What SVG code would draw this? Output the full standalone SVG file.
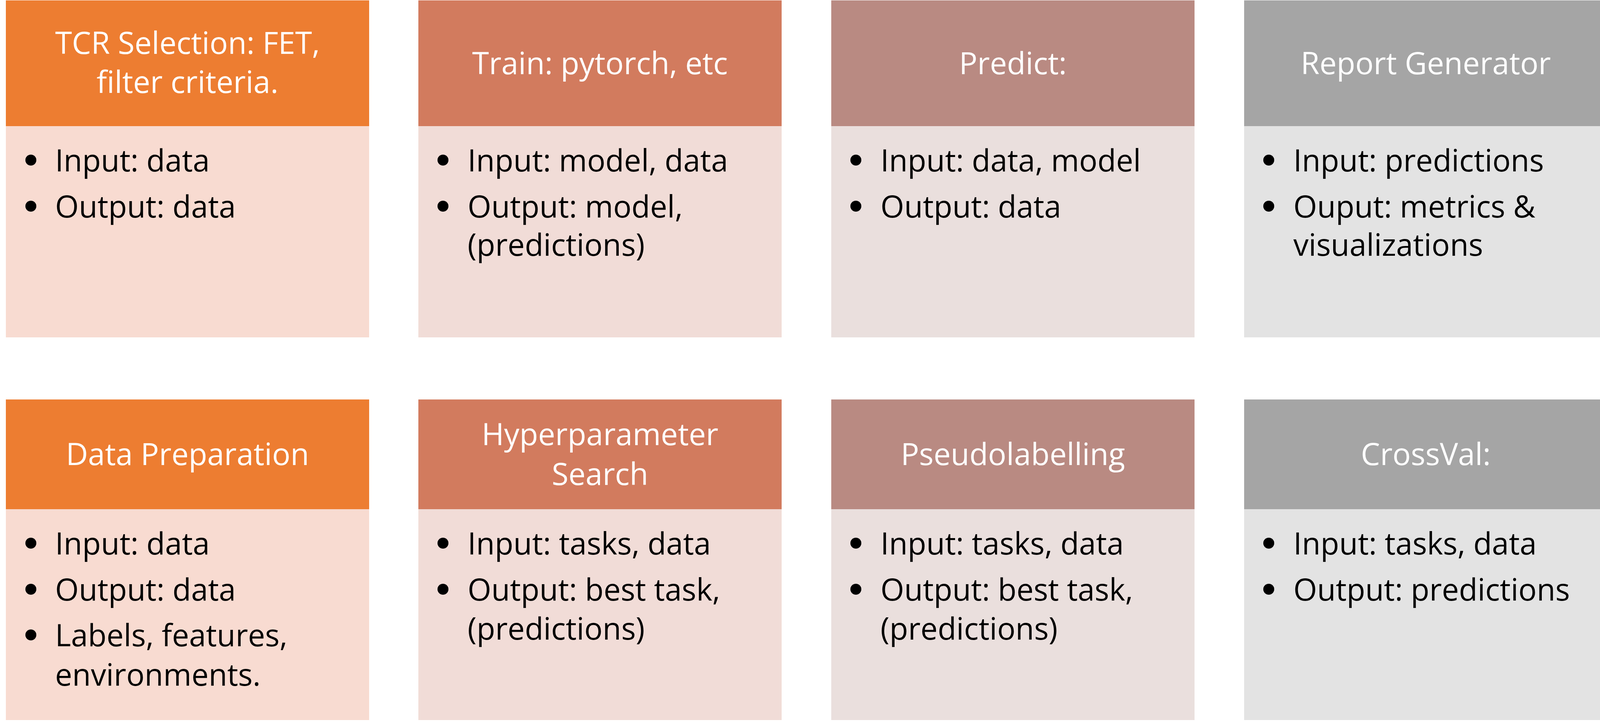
<svg xmlns="http://www.w3.org/2000/svg" width="4117" height="1849" viewBox="0 0 4117 1849">
<style>
.t{font-family:"Open Sans","Liberation Sans",sans-serif;font-size:78px;fill:#FFFFFF;text-anchor:middle}
.b{font-family:"Open Sans","Liberation Sans",sans-serif;font-size:78px;fill:#000000}
.h1{fill:#ED7D31}.p1{fill:#F8DBD1}
.h2{fill:#D27B5E}.p2{fill:#F1DCD7}
.h3{fill:#B98A82}.p3{fill:#EADFDD}
.h4{fill:#A5A5A5}.p4{fill:#E3E3E3}
.dot{fill:#000000}
</style>
<rect width="4117" height="1849" fill="#FFFFFF"/>
<g id="tcr-selection">
<rect class="h1" x="15" y="1" width="930" height="322"/>
<rect class="p1" x="15" y="323" width="930" height="541"/>
<text class="t" x="480" y="138">TCR Selection: FET,</text>
<text class="t" x="480" y="238">filter criteria.</text>
<circle class="dot" cx="79" cy="410" r="14"/>
<text class="b" x="141" y="439">Input: data</text>
<circle class="dot" cx="79" cy="528" r="14"/>
<text class="b" x="141" y="557">Output: data</text>
</g>
<g id="train">
<rect class="h2" x="1071" y="1" width="930" height="322"/>
<rect class="p2" x="1071" y="323" width="930" height="541"/>
<text class="t" x="1536" y="190">Train: pytorch, etc</text>
<circle class="dot" cx="1134" cy="410" r="14"/>
<text class="b" x="1197" y="439">Input: model, data</text>
<circle class="dot" cx="1134" cy="528" r="14"/>
<text class="b" x="1197" y="557">Output: model,</text>
<text class="b" x="1197" y="655">(predictions)</text>
</g>
<g id="predict">
<rect class="h3" x="2128" y="1" width="930" height="322"/>
<rect class="p3" x="2128" y="323" width="930" height="541"/>
<text class="t" x="2593" y="190">Predict:</text>
<circle class="dot" cx="2191" cy="410" r="14"/>
<text class="b" x="2254" y="439">Input: data, model</text>
<circle class="dot" cx="2191" cy="528" r="14"/>
<text class="b" x="2254" y="557">Output: data</text>
</g>
<g id="report-generator">
<rect class="h4" x="3185" y="1" width="930" height="322"/>
<rect class="p4" x="3185" y="323" width="930" height="541"/>
<text class="t" x="3650" y="190">Report Generator</text>
<circle class="dot" cx="3248" cy="410" r="14"/>
<text class="b" x="3311" y="439">Input: predictions</text>
<circle class="dot" cx="3248" cy="528" r="14"/>
<text class="b" x="3311" y="557">Ouput: metrics &amp;</text>
<text class="b" x="3311" y="655">visualizations</text>
</g>
<g id="data-preparation">
<rect class="h1" x="15" y="1023" width="930" height="281"/>
<rect class="p1" x="15" y="1304" width="930" height="540"/>
<text class="t" x="480" y="1191">Data Preparation</text>
<circle class="dot" cx="79" cy="1391" r="14"/>
<text class="b" x="141" y="1420">Input: data</text>
<circle class="dot" cx="79" cy="1509" r="14"/>
<text class="b" x="141" y="1538">Output: data</text>
<circle class="dot" cx="79" cy="1626" r="14"/>
<text class="b" x="141" y="1655">Labels, features,</text>
<text class="b" x="141" y="1756">environments.</text>
</g>
<g id="hyperparameter-search">
<rect class="h2" x="1071" y="1023" width="930" height="281"/>
<rect class="p2" x="1071" y="1304" width="930" height="540"/>
<text class="t" x="1536" y="1140">Hyperparameter</text>
<text class="t" x="1536" y="1242">Search</text>
<circle class="dot" cx="1134" cy="1391" r="14"/>
<text class="b" x="1197" y="1420">Input: tasks, data</text>
<circle class="dot" cx="1134" cy="1509" r="14"/>
<text class="b" x="1197" y="1538">Output: best task,</text>
<text class="b" x="1197" y="1638">(predictions)</text>
</g>
<g id="pseudolabelling">
<rect class="h3" x="2128" y="1023" width="930" height="281"/>
<rect class="p3" x="2128" y="1304" width="930" height="540"/>
<text class="t" x="2593" y="1191">Pseudolabelling</text>
<circle class="dot" cx="2191" cy="1391" r="14"/>
<text class="b" x="2254" y="1420">Input: tasks, data</text>
<circle class="dot" cx="2191" cy="1509" r="14"/>
<text class="b" x="2254" y="1538">Output: best task,</text>
<text class="b" x="2254" y="1638">(predictions)</text>
</g>
<g id="crossval">
<rect class="h4" x="3185" y="1023" width="930" height="281"/>
<rect class="p4" x="3185" y="1304" width="930" height="540"/>
<text class="t" x="3650" y="1191">CrossVal:</text>
<circle class="dot" cx="3248" cy="1391" r="14"/>
<text class="b" x="3311" y="1420">Input: tasks, data</text>
<circle class="dot" cx="3248" cy="1509" r="14"/>
<text class="b" x="3311" y="1538">Output: predictions</text>
</g>
<g id="connectors"></g>
</svg>
